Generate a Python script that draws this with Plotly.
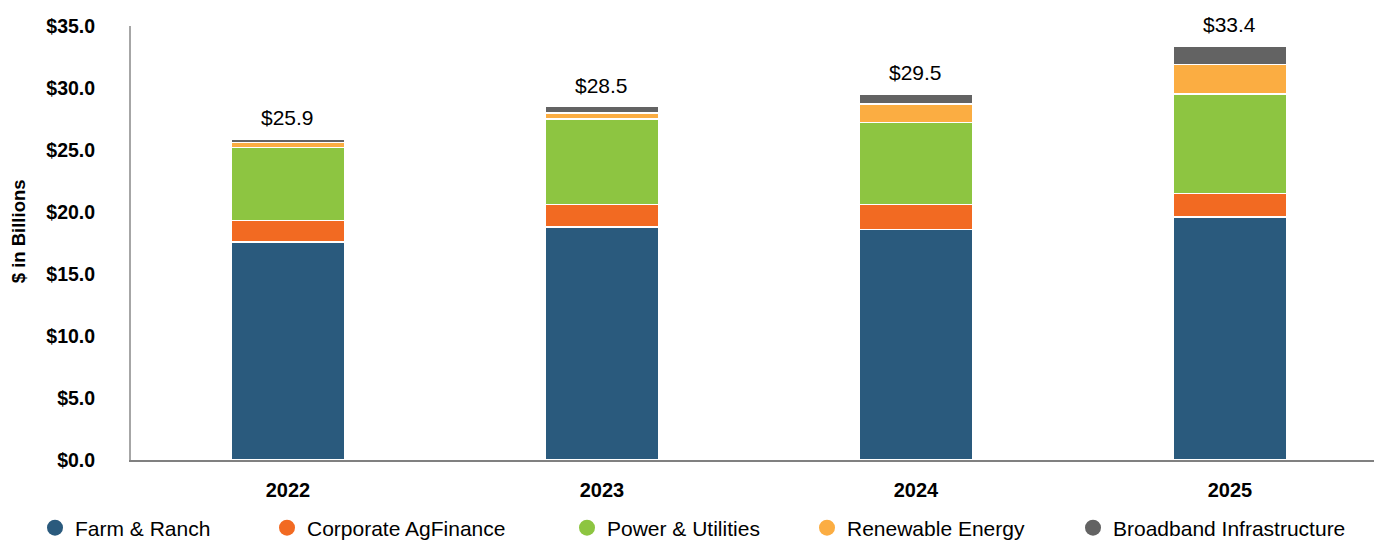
import plotly.graph_objects as go

years = ["2022", "2023", "2024", "2025"]
farm_ranch = [17.6, 18.8, 18.6, 19.6]
corporate_agfinance = [1.7, 1.8, 2.0, 1.9]
power_utilities = [5.9, 6.9, 6.6, 8.0]
renewable_energy = [0.4, 0.5, 1.5, 2.4]
broadband = [0.3, 0.5, 0.8, 1.5]
totals = [25.9, 28.5, 29.5, 33.4]

series = [
    ("Farm & Ranch", farm_ranch, "#2A5A7D"),
    ("Corporate AgFinance", corporate_agfinance, "#F26A22"),
    ("Power & Utilities", power_utilities, "#8DC541"),
    ("Renewable Energy", renewable_energy, "#FBAD42"),
    ("Broadband Infrastructure", broadband, "#636363"),
]
# left edge (px) of each legend entry's label
legend_text_x = [75, 307, 607, 847, 1113]

FONT = "Liberation Sans, Arial, sans-serif"
W, H = 1374, 540
M_L, M_T, M_B = 131, 26, 80

fig = go.Figure()
for name, vals, color in series:
    fig.add_trace(go.Bar(
        x=years, y=vals, name=name, width=0.36,
        marker=dict(color=color, line=dict(color="white", width=1.5)),
        showlegend=False,
    ))

# one legend per entry so each circle swatch sits at its own spot
legend_layout = {}
for i, ((name, vals, color), tx) in enumerate(zip(series, legend_text_x)):
    key = "legend" if i == 0 else f"legend{i + 1}"
    fig.add_trace(go.Scatter(
        x=[None], y=[None], mode="markers", name=name, legend=key,
        marker=dict(symbol="circle", size=16, color=color),
    ))
    legend_layout[key] = dict(
        xref="container", yref="container",
        x=(tx - 40) / W, xanchor="left",
        y=1 - 528 / H, yanchor="middle",
        font=dict(family=FONT, size=21, color="#000000"),
        bgcolor="rgba(0,0,0,0)",
    )

# stacked totals above each bar
for i, tot in enumerate(totals):
    fig.add_annotation(
        x=i, y=tot, text=f"${tot:.1f}", showarrow=False,
        yanchor="bottom", yshift=8,
        font=dict(family=FONT, size=21, color="#000000"),
    )

# vertical axis title
fig.add_annotation(
    xref="paper", yref="paper",
    x=(18 - M_L) / (W - M_L), y=0.527,
    text="<b>$ in Billions</b>", textangle=-90, showarrow=False,
    xanchor="center", yanchor="middle",
    font=dict(family=FONT, size=18.5, color="#000000"),
)

fig.update_layout(
    barmode="stack",
    width=W, height=H,
    margin=dict(l=M_L, r=0, t=M_T, b=M_B, autoexpand=False),
    plot_bgcolor="white", paper_bgcolor="white",
    font=dict(family=FONT, color="#000000"),
    **legend_layout,
)
fig.update_xaxes(
    type="category",
    range=[-0.5, 3.459], showline=True, linecolor="#808080", linewidth=2,
    showgrid=False, ticks="",
    tickfont=dict(family=FONT, size=20, color="#000000", weight="bold"),
    ticklabelstandoff=11,
)
fig.update_yaxes(
    range=[0, 35], dtick=5, tickprefix="$", tickformat=".1f",
    showline=True, linecolor="#A6A6A6", linewidth=2, showgrid=False,
    zeroline=False, ticks="",
    tickfont=dict(family=FONT, size=19.5, color="#000000", weight="bold"),
    ticklabelstandoff=30,
)

fig.write_html("out.html")
